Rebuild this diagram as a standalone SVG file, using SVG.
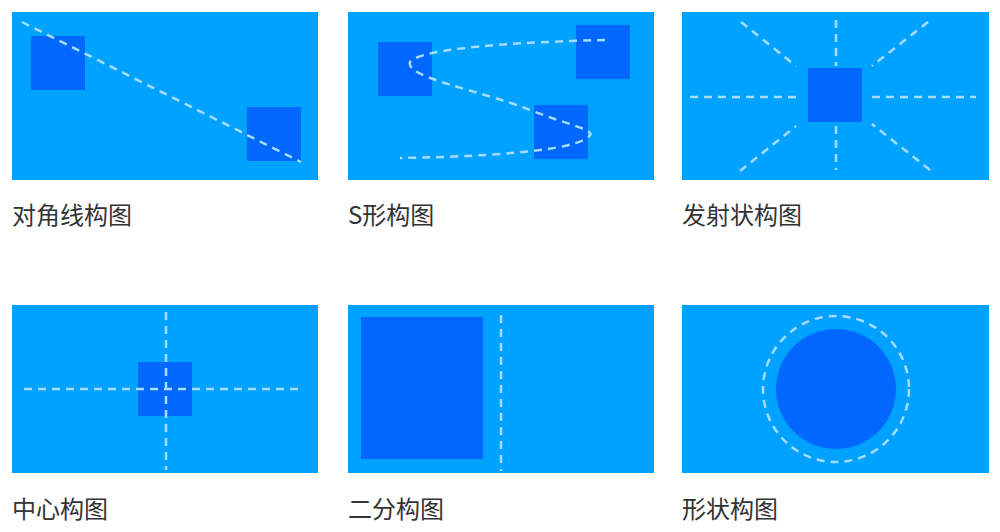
<svg xmlns="http://www.w3.org/2000/svg" width="1000" height="532" viewBox="0 0 1000 532">
<style>
.bg{fill:#00a2ff}.sq{fill:#0068ff}
.d{fill:none;stroke:#a6dcff;stroke-width:2.5;stroke-dasharray:8 6}
.t{font-family:"Noto Sans CJK SC","Noto Sans",sans-serif;font-size:24px;fill:#333}
</style>
<rect width="1000" height="532" fill="#fff"/>
<g id="p1"><rect class="bg" x="12" y="12" width="306" height="168"/><rect class="sq" x="31" y="36" width="54" height="54"/><rect class="sq" x="247" y="107" width="54" height="54"/><text class="t" x="12" y="224">对角线构图</text></g>
<g id="p2"><rect class="bg" x="348" y="12" width="306" height="168"/><rect class="sq" x="378" y="42" width="54" height="54"/><rect class="sq" x="576" y="25" width="54" height="54"/><rect class="sq" x="534" y="105" width="54" height="54"/><text class="t" x="348" y="224">S形构图</text></g>
<g id="p3"><rect class="bg" x="682" y="12" width="307" height="168"/><rect class="sq" x="808" y="68" width="54" height="54"/><text class="t" x="682" y="224">发射状构图</text></g>
<g id="p4"><rect class="bg" x="12" y="305" width="306" height="168"/><rect class="sq" x="138" y="362" width="54" height="54"/><text class="t" x="12" y="518">中心构图</text></g>
<g id="p5"><rect class="bg" x="348" y="305" width="306" height="168"/><rect class="sq" x="361" y="317" width="122" height="142"/><text class="t" x="348" y="518">二分构图</text></g>
<g id="p6"><rect class="bg" x="682" y="305" width="307" height="168"/><circle class="sq" cx="836" cy="389" r="60"/><text class="t" x="682" y="518">形状构图</text></g>
<g id="connectors">
<path class="d" d="M22 22L301 162"/>
<path class="d" d="M605 40C520 42 420 48 410 62C405 78 480 90 530 110C560 122 595 130 590 135C580 152 470 157 400 158"/>
<path class="d" d="M836 20V66M836 126V170M690 97H800M872 97H976M741 22L796 66M928 22L872 66M740 171L796 126M930 170L872 124"/>
<path class="d" d="M166 312V470M24 389H302"/>
<path class="d" d="M501 315V471"/>
<circle class="d" cx="836" cy="389" r="73"/>
</g>
</svg>
